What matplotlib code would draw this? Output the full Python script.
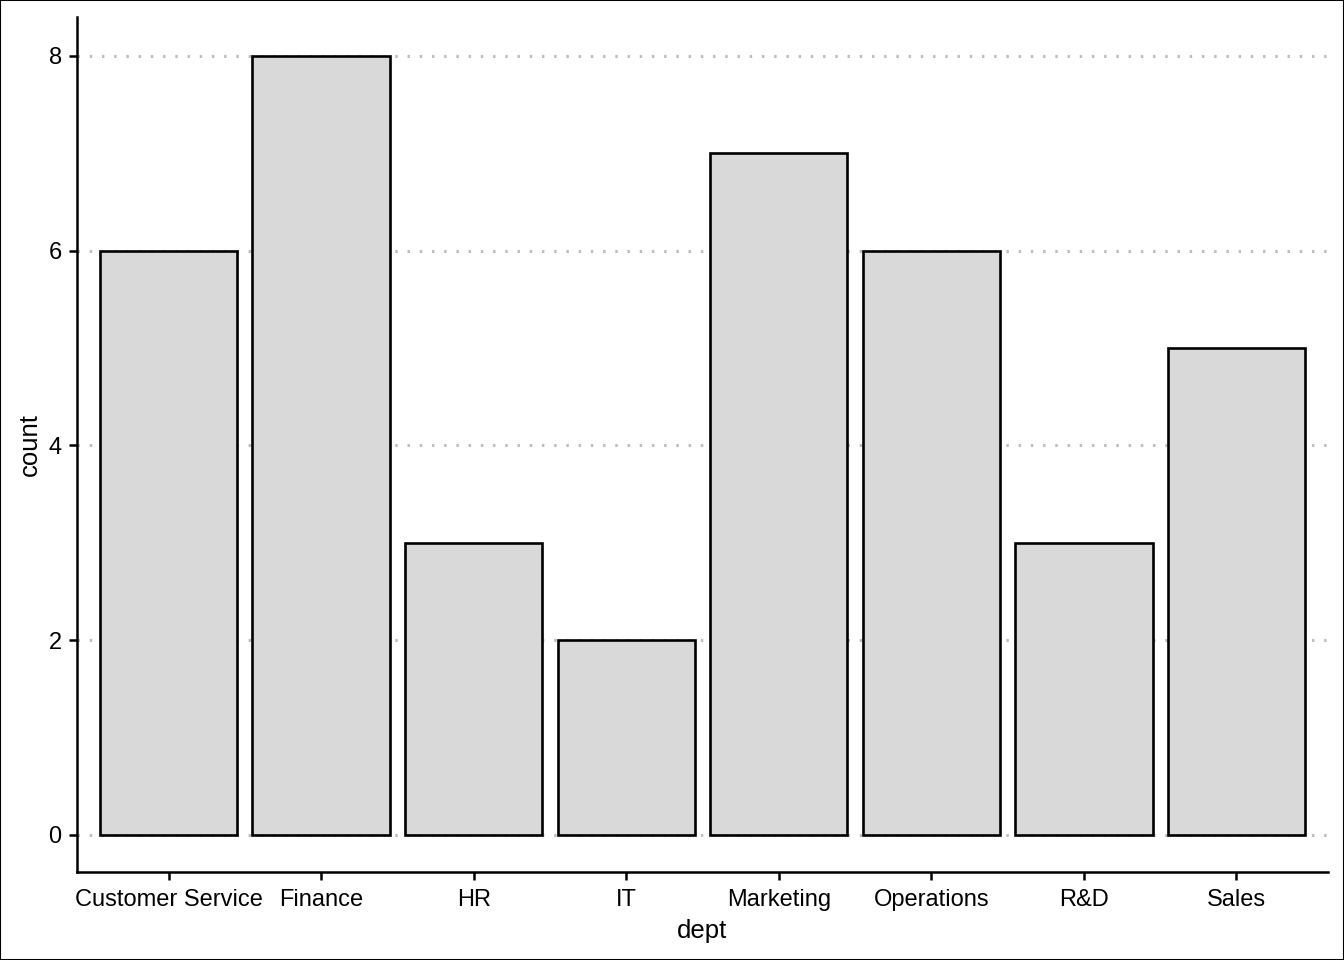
import matplotlib
matplotlib.use("Agg")
import matplotlib.pyplot as plt

plt.rcParams['font.family'] = ['Liberation Sans', 'DejaVu Sans']

depts = ['Customer Service', 'Finance', 'HR', 'IT', 'Marketing', 'Operations', 'R&D', 'Sales']
counts = [6, 8, 3, 2, 7, 6, 3, 5]
yticks = [0, 2, 4, 6, 8]

fig = plt.figure(figsize=(13.44, 9.6), dpi=100)
ax = fig.add_axes([77/1344, 88/960, (1328-77)/1344, (943-88)/960])

x = list(range(1, len(depts) + 1))
ax.bar(x, counts, width=0.9, color='#d9d9d9', edgecolor='black', linewidth=1.9, zorder=3)

for y in yticks:
    ax.axhline(y, color='#bebebe', linewidth=2.2, linestyle=(0, (0.8, 3.2)), zorder=1)

ax.set_xlim(0.4, 8.6)
ax.set_ylim(-0.38, 8.4)
ax.set_xticks(x)
ax.set_xticklabels(depts)
ax.set_yticks(yticks)

ax.spines['top'].set_visible(False)
ax.spines['right'].set_visible(False)
for s in ['left', 'bottom']:
    ax.spines[s].set_linewidth(1.8)
ax.tick_params(axis='both', length=6, width=1.8, labelsize=17, colors='black')
ax.tick_params(axis='x', pad=6)
ax.tick_params(axis='y', pad=5)

ax.set_xlabel('dept', fontsize=18.5, labelpad=6)
ax.set_ylabel('count', fontsize=18.5, labelpad=5)

fig.patches.append(plt.Rectangle((0, 0), 1, 1, transform=fig.transFigure,
                                 fill=False, edgecolor='black', linewidth=1.5))

fig.savefig('out.png', dpi=100)
